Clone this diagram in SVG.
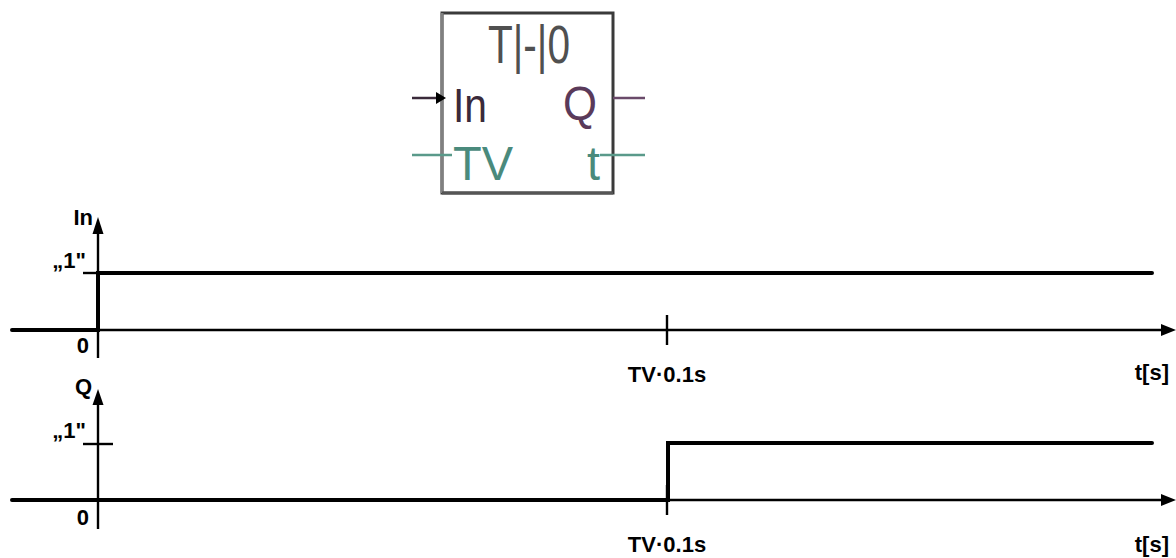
<svg xmlns="http://www.w3.org/2000/svg" width="1176" height="558" viewBox="0 0 1176 558">
<style>
.lbl{font-family:"Liberation Sans",Arial,sans-serif;font-weight:bold;font-size:22px;fill:#000}
.blk{font-family:"Liberation Sans",Arial,sans-serif;font-weight:normal}
.thick{stroke:#000;stroke-width:4;fill:none}
.thin{stroke:#000;stroke-width:2.4;fill:none}
.ah{fill:#000}
</style>
<rect width="1176" height="558" fill="#fff"/>
<g id="block">
  <rect x="442" y="13" width="171" height="180" fill="#fff" stroke="#3a3a3a" stroke-width="3"/>
  <line x1="442" y1="13" x2="442" y2="193" stroke="#808080" stroke-width="3"/>
  <line x1="442" y1="193" x2="613" y2="193" stroke="#555" stroke-width="3"/>
  <text class="blk" x="488" y="63" font-size="54" fill="#505050" textLength="82" lengthAdjust="spacingAndGlyphs">T|-|0</text>
  <line x1="412" y1="98" x2="440" y2="98" stroke="#3a2a3a" stroke-width="2.5"/>
  <polygon points="446,98 436,92 436,104" fill="#000"/>
  <text class="blk" x="453" y="122" font-size="48" fill="#3a2a3a" textLength="34" lengthAdjust="spacingAndGlyphs">In</text>
  <line x1="613" y1="98" x2="645" y2="98" stroke="#6a4a6a" stroke-width="2.5"/>
  <text class="blk" x="563" y="120" font-size="48" fill="#5a3a5a" textLength="34" lengthAdjust="spacingAndGlyphs">Q</text>
  <line x1="412" y1="155" x2="452" y2="155" stroke="#5a9a8a" stroke-width="2.5"/>
  <text class="blk" x="453" y="180" font-size="48" fill="#4a8a7c" textLength="60" lengthAdjust="spacingAndGlyphs">TV</text>
  <line x1="600" y1="155" x2="645" y2="155" stroke="#5a9a8a" stroke-width="2.5"/>
  <text class="blk" x="587" y="180" font-size="48" fill="#4a8a7c" textLength="13" lengthAdjust="spacingAndGlyphs">t</text>
</g>
<g id="chart-in">
  <line class="thin" x1="98" y1="358" x2="98" y2="230"/>
  <polygon class="ah" points="98,217 92.5,234 103.5,234"/>
  <line class="thin" x1="98" y1="330" x2="1163" y2="330"/>
  <polygon class="ah" points="1176,330 1161,324 1161,336"/>
  <line class="thin" x1="83" y1="273" x2="98" y2="273"/>
  <polyline class="thick" points="12,330 98,330 98,273 1152,273" stroke-linecap="round"/>
  <line class="thin" x1="667" y1="315" x2="667" y2="345"/>
  <text class="lbl" x="93" y="225" text-anchor="end">In</text>
  <text class="lbl" x="86" y="268" text-anchor="end">„1"</text>
  <text class="lbl" x="89" y="353" text-anchor="end">0</text>
  <text class="lbl" x="667" y="382" text-anchor="middle">TV·0.1s</text>
  <text class="lbl" x="1169" y="380" text-anchor="end">t[s]</text>
</g>
<g id="chart-q">
  <line class="thin" x1="98" y1="529" x2="98" y2="400"/>
  <polygon class="ah" points="98,389 92.5,405 103.5,405"/>
  <line class="thin" x1="668" y1="500" x2="1163" y2="500"/>
  <polygon class="ah" points="1176,500 1161,494 1161,506"/>
  <line class="thin" x1="83" y1="444" x2="113" y2="444"/>
  <polyline class="thick" points="12,500 668,500 668,443 1152,443" stroke-linecap="round"/>
  <line class="thin" x1="667" y1="485" x2="667" y2="515"/>
  <text class="lbl" x="92" y="394" text-anchor="end">Q</text>
  <text class="lbl" x="86" y="438" text-anchor="end">„1"</text>
  <text class="lbl" x="89" y="525" text-anchor="end">0</text>
  <text class="lbl" x="667" y="552" text-anchor="middle">TV·0.1s</text>
  <text class="lbl" x="1169" y="552" text-anchor="end">t[s]</text>
</g>
</svg>
